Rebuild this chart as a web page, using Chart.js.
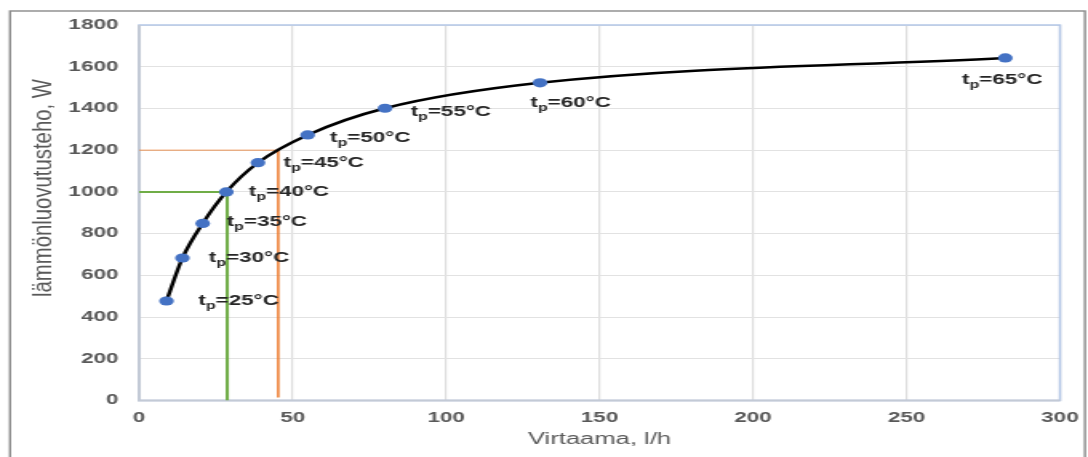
<!DOCTYPE html>
<html><head><meta charset="utf-8">
<script src="https://cdn.jsdelivr.net/npm/chart.js@4"></script>
<style>
html,body{margin:0;padding:0;background:#fff;overflow:hidden}
#wrap{width:680px;height:457px;transform:scaleX(1.6);transform-origin:0 0;}
canvas{display:block}
</style></head><body>
<div id="wrap"><canvas id="c" width="680" height="457"></canvas></div>
<script>
// ---- data ----
const flowRates   = [8.9, 14.1, 20.7, 28.4, 38.7, 54.9, 80.1, 130.6, 282.2];   // l/h
const heatOutput  = [477, 683, 849, 1000, 1140, 1273, 1401, 1523, 1642];     // W
const supplyTemps = [25, 30, 35, 40, 45, 50, 55, 60, 65];                    // °C
const greenRefX   = [0, 28.7, 28.7];
const greenRefY   = [1000, 1000, 0];
const orangeRefX  = [0, 45.3, 45.3];
const orangeRefY  = [1200, 1200, 15];
const xTickValues = [0, 50, 100, 150, 200, 250, 300];
const yTickValues = [0, 200, 400, 600, 800, 1000, 1200, 1400, 1600, 1800];
const xTitle = 'Virtaama, l/h';
const yTitle = 'lämmönluovutusteho, W';

const toPts = (xs, ys) => xs.map((x, i) => ({x, y: ys[i]}));

// label offsets (style only)
const labelOffsets = [[20,0],[16.5,0],[15,-1.5],[14,0],[16,0.5],[14,3],[16,4],[-6,20],[-27,22]];

const framePlugin = {
  id: 'frame',
  beforeDraw(chart) {
    const ctx = chart.ctx;
    ctx.save();
    ctx.fillStyle = '#fff';
    ctx.fillRect(0, 0, chart.width, chart.height);
    ctx.strokeStyle = '#8a8a8a';
    ctx.lineWidth = 1.4;
    ctx.strokeRect(6.3, 11, 671.8, 480);
    ctx.restore();
  },
  beforeDatasetsDraw(chart) {
    const ctx = chart.ctx, a = chart.chartArea;
    ctx.save();
    ctx.strokeStyle = '#b4c7e7';
    ctx.lineWidth = 1.5;
    ctx.strokeRect(a.left, a.top, a.right - a.left, a.bottom - a.top);
    ctx.strokeStyle = '#c3cad6';
    ctx.lineWidth = 2;
    ctx.beginPath();
    ctx.moveTo(a.left, a.top); ctx.lineTo(a.left, a.bottom); ctx.lineTo(a.right, a.bottom);
    ctx.stroke();
    // titles
    ctx.fillStyle = '#595959';
    ctx.font = '16px "Liberation Sans", Arial, sans-serif';
    ctx.textAlign = 'center';
    ctx.textBaseline = 'middle';
    ctx.fillText(xTitle, (a.left + a.right) / 2, 440);
    ctx.translate(27, 188);
    ctx.rotate(-Math.PI / 2);
    ctx.font = '17px "Liberation Sans", Arial, sans-serif';
    const w = ctx.measureText(yTitle).width;
    ctx.scale(218 / w, 1);
    ctx.fillText(yTitle, 0, 0);
    ctx.restore();
  },
  afterDatasetsDraw(chart) {
    const ctx = chart.ctx;
    const meta = chart.getDatasetMeta(2);
    ctx.save();
    ctx.fillStyle = '#262626';
    ctx.textBaseline = 'middle';
    ctx.textAlign = 'left';
    meta.data.forEach((pt, i) => {
      const [dx, dy] = labelOffsets[i];
      let x = pt.x + dx, y = pt.y + dy;
      ctx.font = 'bold 14px "Liberation Sans", Arial, sans-serif';
      ctx.fillText('t', x, y);
      x += ctx.measureText('t').width;
      ctx.font = 'bold 10px "Liberation Sans", Arial, sans-serif';
      ctx.fillText('p', x, y + 5);
      x += ctx.measureText('p').width;
      ctx.font = 'bold 14px "Liberation Sans", Arial, sans-serif';
      ctx.fillText('=' + supplyTemps[i] + '°C', x, y);
    });
    ctx.restore();
  }
};

const tickFont = {family: '"Liberation Sans", Arial, sans-serif', size: 14, weight: 'bold'};

new Chart(document.getElementById('c'), {
  type: 'scatter',
  data: {
    datasets: [
      {data: toPts(greenRefX, greenRefY), showLine: true, borderColor: '#70ad47', borderWidth: 2,
       pointRadius: 0, tension: 0, order: 3},
      {data: toPts(orangeRefX, orangeRefY), showLine: true, borderColor: '#ed7d31', borderWidth: 0.8,
       pointRadius: 0, tension: 0, order: 2},
      {data: toPts(flowRates, heatOutput), showLine: true, borderColor: '#000', borderWidth: 2.5,
       cubicInterpolationMode: 'monotone', pointRadius: 4.6, pointBackgroundColor: '#4472c4',
       pointBorderColor: '#4472c4', pointBorderWidth: 0, order: 1}
    ]
  },
  options: {
    responsive: false, animation: false, devicePixelRatio: 1,
    layout: {padding: {left: 0, right: 17.5, top: 25, bottom: 0}},
    plugins: {legend: {display: false}, tooltip: {enabled: false}},
    scales: {
      x: {
        type: 'linear', min: 0, max: 300,
        afterBuildTicks: s => { s.ticks = xTickValues.map(v => ({value: v})); },
        afterFit: s => { s.height = 56.5; s.paddingLeft = 0; s.paddingRight = 0; },
        grid: {color: '#dedede', lineWidth: 1.2, drawTicks: false},
        border: {display: false},
        ticks: {padding: 9, color: '#595959', font: tickFont, maxRotation: 0, autoSkip: false,
                callback: v => String(v)}
      },
      y: {
        type: 'linear', min: 0, max: 1800,
        afterBuildTicks: s => { s.ticks = yTickValues.map(v => ({value: v})); },
        afterFit: s => { s.width = 87; s.paddingTop = 0; s.paddingBottom = 0; },
        grid: {color: '#e2e2e2', lineWidth: 1, drawTicks: false},
        border: {display: false},
        ticks: {padding: 13, color: '#595959', font: tickFont, autoSkip: false,
                callback: v => String(v)}
      }
    }
  },
  plugins: [framePlugin]
});
</script>
</body></html>
